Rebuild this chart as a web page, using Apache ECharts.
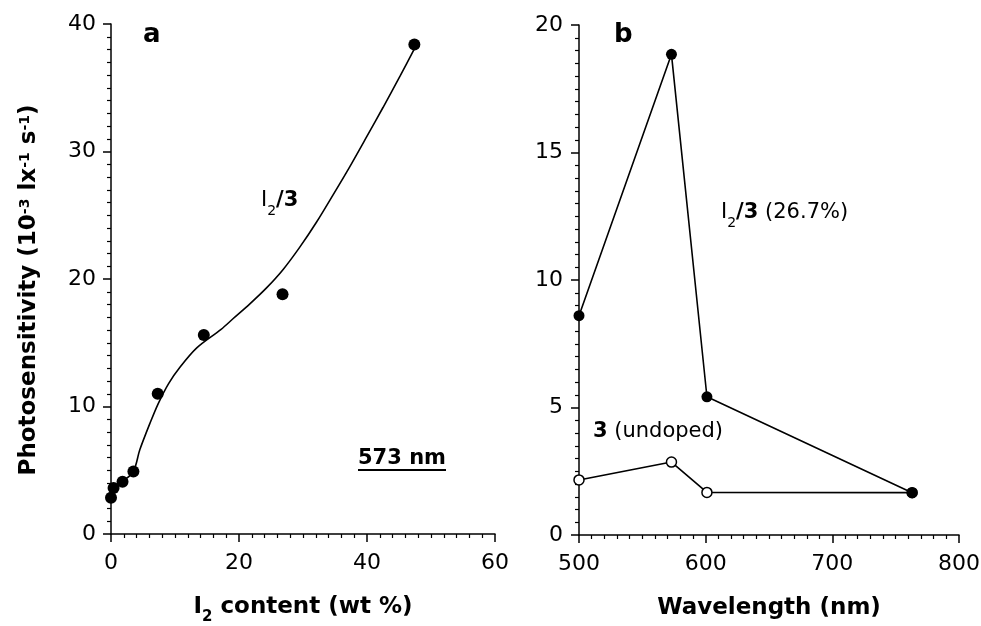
<!DOCTYPE html>
<html>
<head>
<meta charset="utf-8">
<script src="https://cdn.jsdelivr.net/npm/echarts@6/dist/echarts.min.js"></script>
<style>
html,body{margin:0;padding:0;background:#fff;}
#chart{width:981px;height:626px;}
</style>
</head>
<body>
<div id="chart"></div>
<script>
// ---- Panel a: photosensitivity vs I2 content (573 nm) ----
const iodineContent = [0, 0.4, 1.8, 3.5, 7.3, 14.5, 26.8, 47.4];
const sensitivityA = [2.85, 3.6, 4.1, 4.9, 11.0, 15.6, 18.8, 38.4];
// hand-drawn fit curve
const fitX = [0, 0.5, 1.8, 3.5, 4.5, 6.1, 7.4, 9.0, 10.8, 13.4, 17.2, 19.1, 21.7, 24.3, 26.9, 29.5, 32.1, 34.7, 37.3, 40.0, 42.5, 45.2, 47.4];
const fitY = [2.9, 3.5, 4.1, 4.9, 6.6, 8.7, 10.25, 11.8, 13.1, 14.6, 16.05, 16.9, 18.05, 19.3, 20.75, 22.5, 24.45, 26.6, 28.8, 31.2, 33.45, 35.95, 38.05];
// ---- Panel b: photosensitivity vs wavelength ----
const wavelengths = [500, 573, 601, 763];
const dopedSens = [8.6, 18.85, 5.42, 1.66];
const undopedSens = [2.16, 2.86, 1.67, 1.66];
// ---- axis ranges / ticks ----
const axA_x = {min: 0, max: 60, interval: 20};
const axA_y = {min: 0, max: 40, interval: 10};
const axB_x = {min: 500, max: 800, interval: 100};
const axB_y = {min: 0, max: 20, interval: 5};

const FONT = 'DejaVu Sans';
const black = '#000';

function pairs(xs, ys) { return xs.map((x, i) => [x, ys[i]]); }

function xAxisCfg(grid, ax, nameRich) {
  return {
    type: 'value', gridIndex: grid, min: ax.min, max: ax.max, interval: ax.interval,
    axisLine: {show: true, onZero: false, lineStyle: {color: black, width: 1.5}},
    axisTick: {show: true, length: 8, lineStyle: {color: black, width: 1.5}},
    minorTick: {show: true, splitNumber: 10, length: 4, lineStyle: {color: black, width: 1.2}},
    splitLine: {show: false},
    axisLabel: {color: black, fontSize: 22, fontFamily: FONT, margin: 18},
    name: nameRich, nameLocation: 'middle', nameGap: 62,
    nameTextStyle: {
      color: black,
      rich: {
        b: {fontSize: 23, fontWeight: 'bold', fontFamily: FONT, lineHeight: 27, verticalAlign: 'top', color: black},
        s: {fontSize: 15, fontWeight: 'bold', fontFamily: FONT, lineHeight: 15, verticalAlign: 'top', padding: [14, 0, 0, 0], color: black}
      }
    }
  };
}
function yAxisCfg(grid, ax, margin) {
  return {
    type: 'value', gridIndex: grid, min: ax.min, max: ax.max, interval: ax.interval,
    axisLine: {show: true, onZero: false, lineStyle: {color: black, width: 1.5}},
    axisTick: {show: true, length: 8, lineStyle: {color: black, width: 1.5}},
    minorTick: {show: true, splitNumber: 10, length: 4, lineStyle: {color: black, width: 1.2}},
    splitLine: {show: false},
    axisLabel: {color: black, fontSize: 22, fontFamily: FONT, margin: margin}
  };
}

const yA = yAxisCfg(0, axA_y, 15);
yA.name = '{b|Photosensitivity (10}{p|-3}{b| lx}{p|-1}{b| s}{p|-1}{b|)}';
yA.nameLocation = 'middle';
yA.nameRotate = 90;
yA.nameGap = 66;
yA.nameTextStyle = {
  color: black,
  padding: [0, 22, 0, 0],
  rich: {
    b: {fontSize: 23, fontWeight: 'bold', fontFamily: FONT, lineHeight: 27, verticalAlign: 'top', color: black},
    p: {fontSize: 14, fontWeight: 'bold', fontFamily: FONT, lineHeight: 10, verticalAlign: 'top', color: black}
  }
};

const richLbl = {
  n: {fontSize: 21, fontFamily: FONT, lineHeight: 26, verticalAlign: 'top', fill: black, color: black},
  b: {fontSize: 21, fontWeight: 'bold', fontFamily: FONT, lineHeight: 26, verticalAlign: 'top', fill: black, color: black},
  s: {fontSize: 14, fontFamily: FONT, lineHeight: 14, verticalAlign: 'top', padding: [14, 0, 0, 0], fill: black, color: black}
};

const chart = echarts.init(document.getElementById('chart'), null, {renderer: 'canvas'});
chart.setOption({
  animation: false,
  backgroundColor: '#fff',
  textStyle: {fontFamily: FONT},
  grid: [
    {left: 111, top: 24, width: 384, height: 510, containLabel: false, outerBoundsMode: 'none'},
    {left: 579, top: 25, width: 380, height: 510, containLabel: false, outerBoundsMode: 'none'}
  ],
  xAxis: [
    xAxisCfg(0, axA_x, '{b|I}{s|2}{b| content (wt %)}'),
    xAxisCfg(1, axB_x, '{b|Wavelength (nm)}')
  ],
  yAxis: [yA, yAxisCfg(1, axB_y, 16)],
  series: [
    {
      type: 'line', xAxisIndex: 0, yAxisIndex: 0, data: pairs(fitX, fitY),
      smooth: 0.3, showSymbol: false, symbol: 'none',
      lineStyle: {color: black, width: 1.6}, silent: true
    },
    {
      type: 'scatter', xAxisIndex: 0, yAxisIndex: 0, data: pairs(iodineContent, sensitivityA),
      symbol: 'circle', symbolSize: 12, itemStyle: {color: black, opacity: 1}
    },
    {
      type: 'line', xAxisIndex: 1, yAxisIndex: 1, data: pairs(wavelengths, undopedSens),
      symbol: 'circle', symbolSize: 10, showAllSymbol: true,
      itemStyle: {color: '#fff', borderColor: black, borderWidth: 1.5, opacity: 1},
      lineStyle: {color: black, width: 1.6}
    },
    {
      type: 'line', xAxisIndex: 1, yAxisIndex: 1, data: pairs(wavelengths, dopedSens),
      symbol: 'circle', symbolSize: 11, showAllSymbol: true,
      itemStyle: {color: black, opacity: 1},
      lineStyle: {color: black, width: 1.6}
    }
  ],
  graphic: [
    {type: 'text', x: 143, y: 35, style: {text: 'a', fontSize: 26, fontWeight: 'bold', fontFamily: FONT, fill: black, align: 'left', verticalAlign: 'middle'}},
    {type: 'text', x: 614, y: 35, style: {text: 'b', fontSize: 26, fontWeight: 'bold', fontFamily: FONT, fill: black, align: 'left', verticalAlign: 'middle'}},
    {type: 'text', x: 261, y: 190, style: {text: '{n|I}{s|2}{b|/3}', rich: richLbl, align: 'left', verticalAlign: 'top'}},
    {type: 'text', x: 721, y: 202, style: {text: '{n|I}{s|2}{b|/3}{n| (26.7%)}', rich: richLbl, align: 'left', verticalAlign: 'top'}},
    {type: 'text', x: 593, y: 421, style: {text: '{b|3}{n| (undoped)}', rich: richLbl, align: 'left', verticalAlign: 'top'}},
    {type: 'text', x: 358, y: 459, style: {text: '573 nm', fontSize: 21, fontWeight: 'bold', fontFamily: FONT, fill: black, align: 'left', verticalAlign: 'middle'}},
    {type: 'line', shape: {x1: 358, y1: 470, x2: 446, y2: 470}, style: {stroke: black, lineWidth: 2}}
  ]
});
</script>
</body>
</html>
